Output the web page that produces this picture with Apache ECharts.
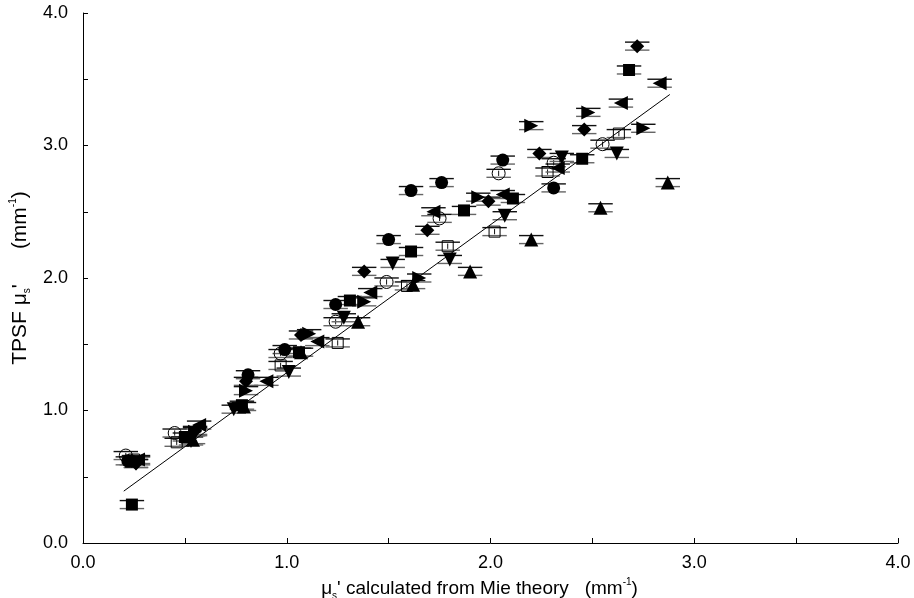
<!DOCTYPE html>
<html><head><meta charset="utf-8">
<script src="https://cdn.jsdelivr.net/npm/echarts@6/dist/echarts.min.js"></script>
<style>html,body{margin:0;padding:0;background:#fff}#c{width:914px;height:598px}</style>
</head><body><div id="c"></div>
<script>
// ---- data (x = Mie theory mu_s', y = TPSF mu_s') ----
const circleFilled = [[0.22,0.62],[0.81,1.27],[0.99,1.46],[1.24,1.80],[1.50,2.29],[1.61,2.66],[1.76,2.72],[2.06,2.89],[2.31,2.68]];
const circleOpen   = [[0.21,0.66],[0.45,0.83],[0.97,1.43],[1.24,1.67],[1.49,1.97],[1.75,2.45],[2.04,2.79],[2.31,2.87],[2.55,3.01]];
const squareFilled = [[0.24,0.29],[0.50,0.80],[0.78,1.04],[1.06,1.44],[1.31,1.83],[1.61,2.20],[1.87,2.51],[2.11,2.60],[2.45,2.90],[2.68,3.57]];
const squareOpen   = [[0.25,0.63],[0.46,0.76],[0.97,1.34],[1.25,1.51],[1.59,1.94],[1.79,2.24],[2.02,2.35],[2.28,2.80],[2.63,3.09]];
const diamondFilled= [[0.26,0.60],[0.55,0.85],[0.80,1.22],[1.07,1.57],[1.38,2.05],[1.69,2.36],[1.99,2.58],[2.24,2.94],[2.46,3.12],[2.72,3.75]];
const triangleUp   = [[0.24,0.62],[0.54,0.78],[0.79,1.03],[1.07,1.44],[1.35,1.67],[1.62,1.95],[1.90,2.05],[2.20,2.29],[2.54,2.53],[2.87,2.72]];
const triangleDown = [[0.26,0.60],[0.53,0.77],[0.74,1.01],[1.01,1.29],[1.28,1.70],[1.52,2.11],[1.80,2.14],[2.07,2.47],[2.35,2.91],[2.62,2.94]];
const triangleLeft = [[0.27,0.63],[0.57,0.89],[0.90,1.22],[1.15,1.52],[1.41,1.89],[1.72,2.50],[2.06,2.63],[2.33,2.83],[2.64,3.32],[2.83,3.47]];
const triangleRight= [[0.27,0.62],[0.55,0.84],[0.80,1.15],[1.11,1.58],[1.38,1.82],[1.65,2.00],[1.94,2.61],[2.20,3.15],[2.48,3.25],[2.75,3.13]];
const xError = 0.06;   // horizontal error half-width (mm^-1)
const yError = 0.02;   // vertical error half-width (mm^-1)
const fitSlope = 1.117, fitIntercept = 0.168;
const fitRange = [0.20, 2.88];
const axisTicks = [0.0, 1.0, 2.0, 3.0, 4.0];

// ---- build ----
const groups = [
  {data: circleFilled, symbol: 'circle', rot: 0, open: false, size: 13},
  {data: circleOpen, symbol: 'circle', rot: 0, open: true, size: 13},
  {data: squareFilled, symbol: 'rect', rot: 0, open: false, size: 12},
  {data: squareOpen, symbol: 'rect', rot: 0, open: true, size: 11},
  {data: diamondFilled, symbol: 'diamond', rot: 0, open: false, size: 14},
  {data: triangleUp, symbol: 'triangle', rot: 0, open: false, size: 14},
  {data: triangleDown, symbol: 'triangle', rot: 180, open: false, size: 14},
  {data: triangleLeft, symbol: 'triangle', rot: 90, open: false, size: 14},
  {data: triangleRight, symbol: 'triangle', rot: -90, open: false, size: 14}
];
const allPoints = groups.reduce((a, g) => a.concat(g.data), []);

function errRender(params, api) {
  const x = api.value(0), y = api.value(1);
  const l = api.coord([x - xError, y]);
  const r = api.coord([x + xError, y]);
  const t = api.coord([x, y + yError]);
  const b = api.coord([x, y - yError]);
  const off = 4;
  return {type: 'group', children: [
    {type: 'line', shape: {x1: l[0], y1: l[1] - off, x2: r[0], y2: r[1] - off}, style: {stroke: '#111', lineWidth: 1.4}},
    {type: 'line', shape: {x1: l[0], y1: l[1] + off, x2: r[0], y2: r[1] + off}, style: {stroke: '#666', lineWidth: 1.4}},
    {type: 'line', shape: {x1: t[0], y1: t[1], x2: b[0], y2: b[1]}, style: {stroke: '#111', lineWidth: 1}}
  ]};
}

const series = [{
  type: 'custom', renderItem: errRender, data: allPoints, z: 1, silent: true
}];
groups.forEach(g => {
  series.push({
    type: 'scatter', data: g.data, symbol: g.symbol, symbolSize: g.size, symbolRotate: g.rot, z: 3,
    itemStyle: g.open ? {color: 'rgba(255,255,255,0)', borderColor: '#000', borderWidth: 1, opacity: 1}
                      : {color: '#000', opacity: 1}
  });
});
series.push({
  type: 'line', data: fitRange.map(x => [x, fitSlope * x + fitIntercept]), symbol: 'none', z: 2,
  lineStyle: {color: '#000', width: 1}
});

const fnt = 'Liberation Sans, Arial, sans-serif';
const axisCommon = {
  type: 'value', min: 0, max: 4, interval: 0.5,
  axisLine: {show: true, lineStyle: {color: '#000', width: 1}},
  axisTick: {show: true, inside: true, length: 5, lineStyle: {color: '#000'}},
  splitLine: {show: false},
  nameLocation: 'middle'
};
const labelFmt = v => axisTicks.some(t => Math.abs(t - v) < 1e-9) ? v.toFixed(1) : '';
function richStyles(fs) {
  return {
    t: {fontSize: fs, fontFamily: fnt, color: '#000', lineHeight: 24, verticalAlign: 'middle'},
    sub: {fontSize: 10, fontFamily: fnt, color: '#000', lineHeight: 24, verticalAlign: 'bottom'},
    sup: {fontSize: 10, fontFamily: fnt, color: '#000', lineHeight: 24, verticalAlign: 'top'}
  };
}

const chart = echarts.init(document.getElementById('c'));
chart.setOption({
  animation: false,
  backgroundColor: '#fff',
  grid: {left: 83, right: 16, top: 13, bottom: 55, containLabel: false, outerBoundsMode: 'none'},
  xAxis: Object.assign({}, axisCommon, {
    axisLabel: {formatter: labelFmt, color: '#000', fontSize: 18, fontFamily: fnt, margin: 11, showMinLabel: true, showMaxLabel: true},
    name: '{t|μ}{sub|s}{t|\' calculated from Mie theory   (mm}{sup|-1}{t|)}',
    nameGap: 27,
    nameTextStyle: {color: '#000', fontFamily: fnt, fontSize: 19, padding: [0, 22, 0, 0], rich: richStyles(19)}
  }),
  yAxis: Object.assign({}, axisCommon, {
    axisLabel: {formatter: labelFmt, color: '#000', fontSize: 18, fontFamily: fnt, margin: 15, showMinLabel: true, showMaxLabel: true},
    name: '{t|TPSF μ}{sub|s}{t|\'      (mm}{sup|-1}{t|)}',
    nameGap: 51,
    nameRotate: 90,
    nameTextStyle: {color: '#000', fontFamily: fnt, fontSize: 21, rich: richStyles(21)}
  }),
  series: series
});
</script>
</body></html>
